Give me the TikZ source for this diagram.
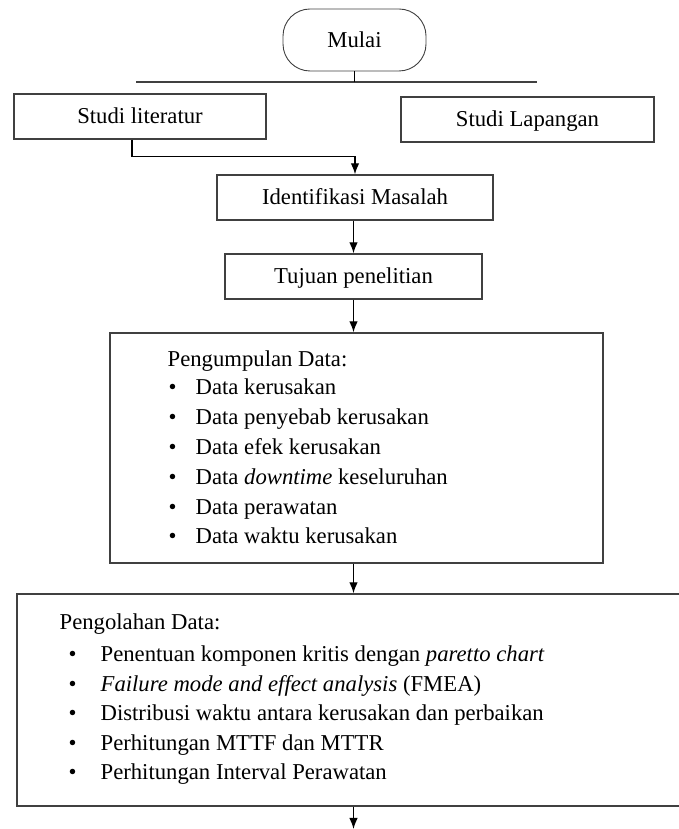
\documentclass[tikz,border=0pt]{standalone}
\usepackage{fontspec}
\setmainfont{Liberation Serif}
\usetikzlibrary{arrows.meta}
\tikzset{every picture/.style={line width=1.3pt}}

\begin{document}
\begin{tikzpicture}[x=1pt,y=1pt,>={Latex[length=11pt,width=8.5pt]},
 every node/.style={font=\fontsize{22.7}{27}\selectfont},
 flowbox/.style={draw=black!75,line width=1.4pt,inner sep=0pt,
  text height=16pt,text depth=1pt},
 listline/.style={anchor=base west,inner sep=0pt}]
 \useasboundingbox (0,0) rectangle (679,829);
 % Start terminal with the bar below it.
 \node[flowbox,line width=.9pt,rounded corners=27pt,
  minimum width=143pt,minimum height=62pt] (mulai) at (354.5,789) {Mulai};
 \coordinate (barL) at (136,747);
 \coordinate (barR) at (537,747);
 \draw[black!75] (barL) -- (barR);
 \draw (mulai.south) -- (mulai.south |- barL);

 \node[flowbox,minimum width=252pt,minimum height=45pt] (literatur)
  at (140,712.5) {Studi literatur};
 \node[flowbox,minimum width=253pt,minimum height=45pt] (lapangan)
  at (527.5,709.5) {Studi Lapangan};
 \node[flowbox,minimum width=276pt,minimum height=45pt] (identifikasi)
  at (355,631.5) {Identifikasi Masalah};
 \node[flowbox,minimum width=257pt,minimum height=45pt] (tujuan)
  at (353.5,552.5) {Tujuan penelitian};
 \node[flowbox,minimum width=493pt,minimum height=230pt] (kumpul)
  at (356.5,381) {};
 % The processing box runs past the right edge of the page.
 \node[flowbox,minimum width=683pt,minimum height=212pt] (olah)
  at (358.5,129) {};

 \draw[->] ([xshift=-8pt]literatur.south) -- ++(0,-17) -| (identifikasi.north);
 \draw[->] (tujuan.north |- identifikasi.south) -- (tujuan.north);
 \draw[->] (tujuan.south) -- (tujuan.south |- kumpul.north);
 \draw[->] (tujuan.south |- kumpul.south) -- (tujuan.south |- olah.north);
 \coordinate (exit) at (353.5,0);
 \draw[->] (exit |- olah.south) -- (exit);

 % Lists inside the two large boxes.
 \node[listline] (kumpulhead) at (167,462) {Pengumpulan Data:};
 \foreach \entry [count=\i] in {Data kerusakan,Data penyebab kerusakan,
  Data efek kerusakan,{Data \textit{downtime} keseluruhan},Data perawatan,
  Data waktu kerusakan}
  \node[listline] (kumpul-\i) at (168,{434-(\i-1)*29.8})
   {\makebox[27pt][l]{\textbullet}\entry};

 \node[listline] (olahhead) at (59,199) {Pengolahan Data:};
 \foreach \entry [count=\i] in
  {{Penentuan komponen kritis dengan \textit{paretto chart}},
  {\textit{Failure mode and effect analysis} (FMEA)},
  Distribusi waktu antara kerusakan dan perbaikan,
  Perhitungan MTTF dan MTTR,Perhitungan Interval Perawatan}
  \node[listline] (olah-\i) at (68,{167-(\i-1)*29.5})
   {\makebox[32pt][l]{\textbullet}\entry};
\end{tikzpicture}
\end{document}
